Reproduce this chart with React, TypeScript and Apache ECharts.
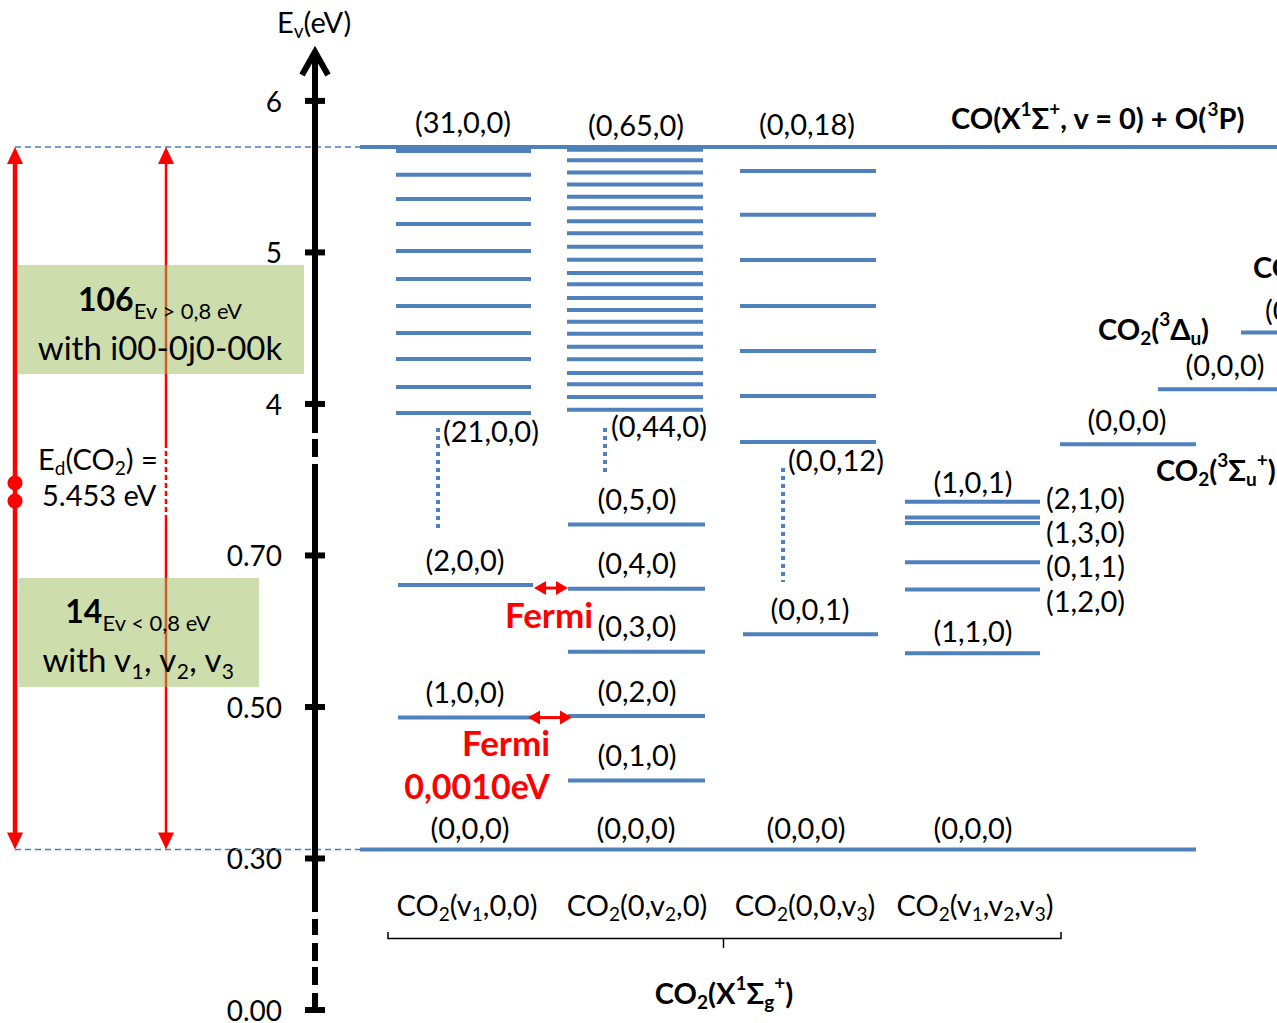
import React, { useEffect, useRef } from "react";
import * as echarts from "echarts";

// ---------- energies (eV) ----------
const AXIS_TICK_LABELS = ["0.00", "0.30", "0.50", "0.70", "4", "5", "6"];

const DISSOCIATION_EV = 5.696; // CO(X1Σ+, v = 0) + O(3P)
const GROUND_EV = 0.312; // CO2(X1Σg+) (0,0,0)

// (31,0,0) down to (21,0,0)
const V1_HIGH_EV = [5.67, 5.512, 5.353, 5.188, 5.01, 4.825, 4.647, 4.469, 4.297, 4.112, 3.941];
// (0,65,0) down to (0,44,0)
const V2_HIGH_EV = [
  5.677, 5.609, 5.527, 5.448, 5.368, 5.292, 5.206, 5.127, 5.038, 4.952, 4.865,
  4.79, 4.7, 4.62, 4.543, 4.464, 4.378, 4.295, 4.205, 4.13, 4.046, 3.962,
];
// (0,0,18) down to (0,0,12)
const V3_HIGH_EV = [5.538, 5.248, 4.95, 4.647, 4.35, 4.053, 3.749];

const V1_LOW_LABELS = ["(1,0,0)", "(2,0,0)"];
const V1_LOW_EV = [0.486, 0.661];
const V2_LOW_LABELS = ["(0,1,0)", "(0,2,0)", "(0,3,0)", "(0,4,0)", "(0,5,0)"];
const V2_LOW_EV = [0.403, 0.488, 0.573, 0.656, 0.741];
const V3_LOW_LABELS = ["(0,0,1)"];
const V3_LOW_EV = [0.596];
const MIXED_LABELS = ["(1,1,0)", "(1,2,0)", "(0,1,1)", "(1,3,0)", "(2,1,0)", "(1,0,1)"];
const MIXED_EV = [0.571, 0.655, 0.691, 0.743, 0.75, 0.771];

// lowest level of the excited states: 3Σu+, 3Δu, next state
const TRIPLET_EV = [3.734, 4.097, 4.471];

// Fermi resonance pairs
const FERMI_PAIR_EV = [0.657, 0.486];

// ---------- broken energy axis ----------
// Above SPLIT_EV one tick step is 1 eV; below it the scale is stretched to
// 0.2 eV per step, with 0.30 eV on the second tick.
const SPLIT_EV = 2;
function toAxis(ev: number): number {
  return ev >= SPLIT_EV ? ev : 1 + (ev - 0.3) / 0.2;
}

// ---------- layout (x measured from the energy axis) ----------
const AXIS_X = 315; // pixel offset of the energy axis from the left edge
const COL: Record<string, [number, number]> = {
  v1: [81, 216],
  v1Low: [83, 218],
  v2: [252, 388],
  v2Low: [253, 390],
  v3: [425, 561],
  v3Low: [428, 563],
  mixed: [590, 725],
  sigma: [745, 881],
  delta: [843, 975],
  third: [926, 1010],
  dissociation: [45, 962],
  ground: [45, 881],
  guide: [-300, 45],
};

const FONT = "Lato, 'Open Sans', 'DejaVu Sans', sans-serif";
const BLUE = "#4f81bd";
const RED = "#ff0000";
const BLACK = "#000000";
const LABEL_SIZE = 29;

type Level = { x0: number; x1: number; ev: number };
type Label = {
  text: string;
  x: number;
  ev: number;
  dy: number;
  align: "left" | "center";
  bold?: boolean;
};

const LEVELS: Level[] = [];
const addLevels = (col: [number, number], evs: number[]) =>
  evs.forEach((ev) => LEVELS.push({ x0: col[0], x1: col[1], ev }));
addLevels(COL.v1, V1_HIGH_EV);
addLevels(COL.v2, V2_HIGH_EV);
addLevels(COL.v3, V3_HIGH_EV);
addLevels(COL.v1Low, V1_LOW_EV);
addLevels(COL.v2Low, V2_LOW_EV);
addLevels(COL.v3Low, V3_LOW_EV);
addLevels(COL.mixed, MIXED_EV);
addLevels(COL.sigma, [TRIPLET_EV[0]]);
addLevels(COL.delta, [TRIPLET_EV[1]]);
addLevels(COL.third, [TRIPLET_EV[2]]);
addLevels(COL.dissociation, [DISSOCIATION_EV]);
addLevels(COL.ground, [GROUND_EV]);

const GUIDES: Level[] = [
  { x0: COL.guide[0], x1: COL.guide[1], ev: DISSOCIATION_EV },
  { x0: COL.guide[0], x1: COL.guide[1], ev: GROUND_EV },
];

// dotted links across the axis break: [x, from, to] in axis units
const CONNECTORS = [
  [123, 3.842, 3.175],
  [290, 3.842, 3.545],
  [468, 3.578, 2.825],
];

const LABELS: Label[] = [
  { text: "(31,0,0)", x: 148, ev: V1_HIGH_EV[0], dy: -29, align: "center" },
  { text: "(21,0,0)", x: 128, ev: V1_HIGH_EV[V1_HIGH_EV.length - 1], dy: 18, align: "left" },
  { text: "(0,65,0)", x: 321, ev: V2_HIGH_EV[0], dy: -25, align: "center" },
  { text: "(0,44,0)", x: 296, ev: V2_HIGH_EV[V2_HIGH_EV.length - 1], dy: 16, align: "left" },
  { text: "(0,0,18)", x: 492, ev: V3_HIGH_EV[0], dy: -47, align: "center" },
  { text: "(0,0,12)", x: 473, ev: V3_HIGH_EV[V3_HIGH_EV.length - 1], dy: 18, align: "left" },
  ...V1_LOW_LABELS.map((t, i) => ({ text: t, x: 150, ev: V1_LOW_EV[i], dy: -26, align: "center" as const })),
  ...V2_LOW_LABELS.map((t, i) => ({ text: t, x: 322, ev: V2_LOW_EV[i], dy: -26, align: "center" as const })),
  ...V3_LOW_LABELS.map((t, i) => ({ text: t, x: 495, ev: V3_LOW_EV[i], dy: -26, align: "center" as const })),
  { text: MIXED_LABELS[0], x: 658, ev: MIXED_EV[0], dy: -23, align: "center" },
  { text: MIXED_LABELS[1], x: 731, ev: MIXED_EV[1], dy: 11, align: "left" },
  { text: MIXED_LABELS[2], x: 731, ev: MIXED_EV[2], dy: 3, align: "left" },
  { text: MIXED_LABELS[3], x: 731, ev: MIXED_EV[3], dy: 9, align: "left" },
  { text: MIXED_LABELS[4], x: 731, ev: MIXED_EV[4], dy: -20, align: "left" },
  { text: MIXED_LABELS[5], x: 658, ev: MIXED_EV[5], dy: -20, align: "center" },
  ...[155, 321, 491, 658].map((x) => ({ text: "(0,0,0)", x, ev: GROUND_EV, dy: -22, align: "center" as const })),
  { text: "(0,0,0)", x: 812, ev: TRIPLET_EV[0], dy: -25, align: "center" },
  { text: "(0,0,0)", x: 910, ev: TRIPLET_EV[1], dy: -25, align: "center" },
  { text: "(0,0,0)", x: 950, ev: TRIPLET_EV[2], dy: -23, align: "left" },
  { text: "CO(X{sup|1}Σ{sup|+}, v = 0) + O({sup|3}P)", x: 636, ev: DISSOCIATION_EV, dy: -29, align: "left", bold: true },
  { text: "CO{sub|2}({sup|3}Σ{sub|u}{sup|+})", x: 841, ev: TRIPLET_EV[0], dy: 25, align: "left", bold: true },
  { text: "CO{sub|2}({sup|3}Δ{sub|u})", x: 783, ev: TRIPLET_EV[1], dy: -61, align: "left", bold: true },
  { text: "CO{sub|2}", x: 938, ev: TRIPLET_EV[2], dy: -66, align: "left", bold: true },
];

// axis line pieces (solid, then the dashed break marks), in axis units
const AXIS_SEGMENTS = [
  [6.323, 3.809],
  [3.769, 3.65],
  [3.604, 0.647],
  [0.601, 0.495],
  [0.442, 0.323],
  [0.284, 0.165],
  [0.112, 0.0],
];

const RED_ARROWS = [
  { x: -300, width: 4.5, dashed: null as null | [number, number], dots: [3.479, 3.36] },
  { x: -149, width: 2.5, dashed: [3.743, 3.234] as [number, number], dots: [] as number[] },
];

const FERMI_ARROWS = [
  { x0: 219, x1: 253, ev: FERMI_PAIR_EV[0] },
  { x0: 213, x1: 257, ev: FERMI_PAIR_EV[1] },
];

// ---------- text helpers ----------
function richStyles(size: number, weight: string, color: string) {
  const small = Math.round(size * 0.65);
  const base = { fontFamily: FONT, fontWeight: weight, fill: color };
  return {
    sub: { ...base, fontSize: small, lineHeight: small, verticalAlign: "bottom" },
    sup: { ...base, fontSize: small, lineHeight: Math.round(size * 1.15), verticalAlign: "top" },
  };
}

function textEl(
  x: number,
  y: number,
  text: string,
  size: number,
  opts: { bold?: boolean; color?: string; align?: string; z?: number } = {}
) {
  const weight = opts.bold ? "bold" : "normal";
  const color = opts.color ?? BLACK;
  const el: any = {
    type: "text",
    x,
    y,
    style: {
      text,
      fill: color,
      fontFamily: FONT,
      fontSize: size,
      fontWeight: weight,
      lineHeight: Math.round(size * 1.3),
      align: opts.align ?? "center",
      verticalAlign: "middle",
      rich: richStyles(size, weight, color),
    },
  };
  if (opts.z !== undefined) el.z = opts.z;
  return el;
}

function countText(x: number, y: number, count: string, note: string) {
  return {
    type: "text",
    x,
    y,
    z: 12,
    style: {
      text: `{n|${count}}{s|${note}}`,
      align: "center",
      verticalAlign: "middle",
      fill: BLACK,
      fontFamily: FONT,
      fontSize: 32,
      lineHeight: 46,
      rich: {
        n: { fontFamily: FONT, fontWeight: "bold", fontSize: 32, lineHeight: 46, fill: BLACK },
        s: { fontFamily: FONT, fontWeight: "normal", fontSize: 22, lineHeight: 22, verticalAlign: "bottom", fill: BLACK },
      },
    },
  };
}

function buildOption(): any {
  const lineSeries = (name: string, items: Level[], style: any, z = 2) => ({
    type: "custom",
    name,
    coordinateSystem: "cartesian2d",
    z,
    silent: true,
    data: items.map((l) => [l.x0, l.x1, toAxis(l.ev)]),
    encode: { x: [0, 1], y: 2 },
    renderItem: (_p: any, api: any) => {
      const a = api.coord([api.value(0), api.value(2)]);
      const b = api.coord([api.value(1), api.value(2)]);
      return { type: "line", shape: { x1: a[0], y1: a[1], x2: b[0], y2: b[1] }, style };
    },
  });

  const series: any[] = [
    lineSeries("levels", LEVELS, { stroke: BLUE, lineWidth: 4 }),
    lineSeries("guides", GUIDES, { stroke: "#4a7ebb", lineWidth: 1.5, lineDash: [6, 4] }),
    {
      type: "custom",
      name: "connectors",
      coordinateSystem: "cartesian2d",
      silent: true,
      data: CONNECTORS,
      encode: { x: 0, y: [1, 2] },
      renderItem: (_p: any, api: any) => {
        const a = api.coord([api.value(0), api.value(1)]);
        const b = api.coord([api.value(0), api.value(2)]);
        return {
          type: "line",
          shape: { x1: a[0], y1: a[1], x2: b[0], y2: b[1] },
          style: { stroke: BLUE, lineWidth: 4, lineDash: [4, 4] },
        };
      },
    },
    {
      type: "custom",
      name: "axis",
      coordinateSystem: "cartesian2d",
      silent: true,
      z: 4,
      data: AXIS_SEGMENTS.map((s) => [0, s[0], s[1]]),
      encode: { x: 0, y: [1, 2] },
      renderItem: (p: any, api: any) => {
        const a = api.coord([api.value(0), api.value(1)]);
        const b = api.coord([api.value(0), api.value(2)]);
        const children: any[] = [
          {
            type: "line",
            shape: { x1: a[0], y1: a[1], x2: b[0], y2: b[1] },
            style: { stroke: BLACK, lineWidth: 6 },
          },
        ];
        if (p.dataIndex === 0) {
          children.push({
            type: "polyline",
            shape: { points: [[a[0] - 13, a[1] + 23], [a[0], a[1]], [a[0] + 13, a[1] + 23]] },
            style: { stroke: BLACK, lineWidth: 6, fill: null, lineJoin: "miter" },
          });
        }
        return { type: "group", children };
      },
    },
    {
      type: "custom",
      name: "ticks",
      coordinateSystem: "cartesian2d",
      silent: true,
      z: 4,
      data: AXIS_TICK_LABELS.map((_, i) => [0, i]),
      encode: { x: 0, y: 1 },
      renderItem: (_p: any, api: any) => {
        const c = api.coord([api.value(0), api.value(1)]);
        return {
          type: "line",
          shape: { x1: c[0] - 10, y1: c[1], x2: c[0] + 10, y2: c[1] },
          style: { stroke: BLACK, lineWidth: 6 },
        };
      },
    },
    {
      type: "custom",
      name: "dissociation arrows",
      coordinateSystem: "cartesian2d",
      silent: true,
      z: 3,
      data: RED_ARROWS.map((r) => [r.x, toAxis(DISSOCIATION_EV), toAxis(GROUND_EV)]),
      encode: { x: 0, y: [1, 2] },
      renderItem: (p: any, api: any) => {
        const r = RED_ARROWS[p.dataIndex];
        const top = api.coord([api.value(0), api.value(1)]);
        const bot = api.coord([api.value(0), api.value(2)]);
        const x = top[0];
        const head = 17;
        const half = 8;
        const children: any[] = [];
        const seg = (y1: number, y2: number, dash?: number[]) =>
          children.push({
            type: "line",
            shape: { x1: x, y1, x2: x, y2 },
            style: { stroke: RED, lineWidth: r.width, lineDash: dash },
          });
        if (r.dashed) {
          const d0 = api.coord([r.x, r.dashed[0]])[1];
          const d1 = api.coord([r.x, r.dashed[1]])[1];
          seg(top[1] + head - 2, d0);
          seg(d0, d1, [5, 3]);
          seg(d1, bot[1] - head + 2);
        } else {
          seg(top[1] + head - 2, bot[1] - head + 2);
        }
        children.push({
          type: "polygon",
          shape: { points: [[x, top[1]], [x - half, top[1] + head], [x + half, top[1] + head]] },
          style: { fill: RED },
        });
        children.push({
          type: "polygon",
          shape: { points: [[x, bot[1]], [x - half, bot[1] - head], [x + half, bot[1] - head]] },
          style: { fill: RED },
        });
        r.dots.forEach((d) => {
          const c = api.coord([r.x, d]);
          children.push({ type: "circle", shape: { cx: c[0], cy: c[1], r: 7.5 }, style: { fill: RED } });
        });
        return { type: "group", children };
      },
    },
    {
      type: "custom",
      name: "fermi",
      coordinateSystem: "cartesian2d",
      silent: true,
      z: 3,
      data: FERMI_ARROWS.map((f) => [f.x0, f.x1, toAxis(f.ev)]),
      encode: { x: [0, 1], y: 2 },
      renderItem: (_p: any, api: any) => {
        const a = api.coord([api.value(0), api.value(2)]);
        const b = api.coord([api.value(1), api.value(2)]);
        const y = a[1];
        const head = 12;
        const half = 7;
        return {
          type: "group",
          children: [
            {
              type: "line",
              shape: { x1: a[0] + head - 2, y1: y, x2: b[0] - head + 2, y2: y },
              style: { stroke: RED, lineWidth: 3 },
            },
            {
              type: "polygon",
              shape: { points: [[a[0], y], [a[0] + head, y - half], [a[0] + head, y + half]] },
              style: { fill: RED },
            },
            {
              type: "polygon",
              shape: { points: [[b[0], y], [b[0] - head, y - half], [b[0] - head, y + half]] },
              style: { fill: RED },
            },
          ],
        };
      },
    },
    {
      type: "custom",
      name: "labels",
      coordinateSystem: "cartesian2d",
      silent: true,
      z: 5,
      data: LABELS.map((l) => [l.x, toAxis(l.ev)]),
      encode: { x: 0, y: 1 },
      renderItem: (p: any, api: any) => {
        const l = LABELS[p.dataIndex];
        const c = api.coord([api.value(0), api.value(1)]);
        return textEl(c[0], c[1] + l.dy, l.text, LABEL_SIZE, { bold: l.bold, align: l.align });
      },
    },
  ];

  const graphic: any[] = [
    textEl(277, 21, "E{sub|v}(eV)", LABEL_SIZE, { align: "left", z: 12 }),
    // population boxes
    { type: "rect", z: 10, shape: { x: 18, y: 265, width: 286, height: 109 }, style: { fill: "rgba(155,187,89,0.5)" } },
    { type: "rect", z: 10, shape: { x: 19, y: 578, width: 240, height: 109 }, style: { fill: "rgba(155,187,89,0.5)" } },
    countText(160, 298, "106", "Ev > 0,8 eV"),
    textEl(160, 347, "with i00-0j0-00k", 33, { z: 12 }),
    countText(138, 610, "14", "Ev < 0,8 eV"),
    textEl(138, 659, "with v{sub|1}, v{sub|2}, v{sub|3}", 33, { z: 12 }),
    textEl(38, 458, "E{sub|d}(CO{sub|2}) =", LABEL_SIZE, { align: "left", z: 12 }),
    textEl(42, 494, "5.453 eV", LABEL_SIZE, { align: "left", z: 12 }),
    // Fermi resonance notes
    textEl(549, 614, "Fermi", 35, { bold: true, color: RED, z: 12 }),
    textEl(506, 742, "Fermi", 35, { bold: true, color: RED, z: 12 }),
    textEl(477, 785, "0,0010eV", 34, { bold: true, color: RED, z: 12 }),
    // column captions and brace
    textEl(467, 904, "CO{sub|2}(v{sub|1},0,0)", LABEL_SIZE, { z: 12 }),
    textEl(637, 904, "CO{sub|2}(0,v{sub|2},0)", LABEL_SIZE, { z: 12 }),
    textEl(805, 904, "CO{sub|2}(0,0,v{sub|3})", LABEL_SIZE, { z: 12 }),
    textEl(975, 904, "CO{sub|2}(v{sub|1},v{sub|2},v{sub|3})", LABEL_SIZE, { z: 12 }),
    {
      type: "polyline",
      z: 12,
      shape: { points: [[388, 932], [388, 938.5], [1061, 938.5], [1061, 932]] },
      style: { stroke: BLACK, lineWidth: 1.5, fill: null },
    },
    { type: "line", z: 12, shape: { x1: 723.5, y1: 938.5, x2: 723.5, y2: 948 }, style: { stroke: BLACK, lineWidth: 1.5 } },
    textEl(724, 992, "CO{sub|2}(X{sup|1}Σ{sub|g}{sup|+})", LABEL_SIZE, { bold: true, z: 12 }),
  ];

  return {
    animation: false,
    backgroundColor: "#ffffff",
    grid: { left: 0, right: 0, top: 10, bottom: 13, outerBoundsMode: "none", containLabel: false },
    xAxis: { type: "value", min: -AXIS_X, max: 1277 - AXIS_X, show: false },
    yAxis: {
      type: "value",
      min: 0,
      max: 6.6,
      interval: 1,
      position: "left",
      offset: -AXIS_X,
      axisLine: { show: false, onZero: false },
      axisTick: { show: false },
      splitLine: { show: false },
      axisLabel: {
        margin: 33,
        color: BLACK,
        fontFamily: FONT,
        fontSize: 28,
        lineHeight: 22,
        formatter: (v: number) => {
          const i = Math.round(v);
          return Math.abs(v - i) < 1e-6 && AXIS_TICK_LABELS[i] !== undefined ? AXIS_TICK_LABELS[i] : "";
        },
      },
    },
    series,
    graphic,
  };
}

export default function App() {
  const ref = useRef<HTMLDivElement>(null);
  useEffect(() => {
    if (!ref.current) return;
    const chart = echarts.init(ref.current, undefined, { renderer: "svg" });
    chart.setOption(buildOption());
    return () => chart.dispose();
  }, []);
  return (
    <div
      ref={ref}
      style={{ position: "absolute", left: 0, top: 0, width: 1277, height: 1023, background: "#fff" }}
    />
  );
}
